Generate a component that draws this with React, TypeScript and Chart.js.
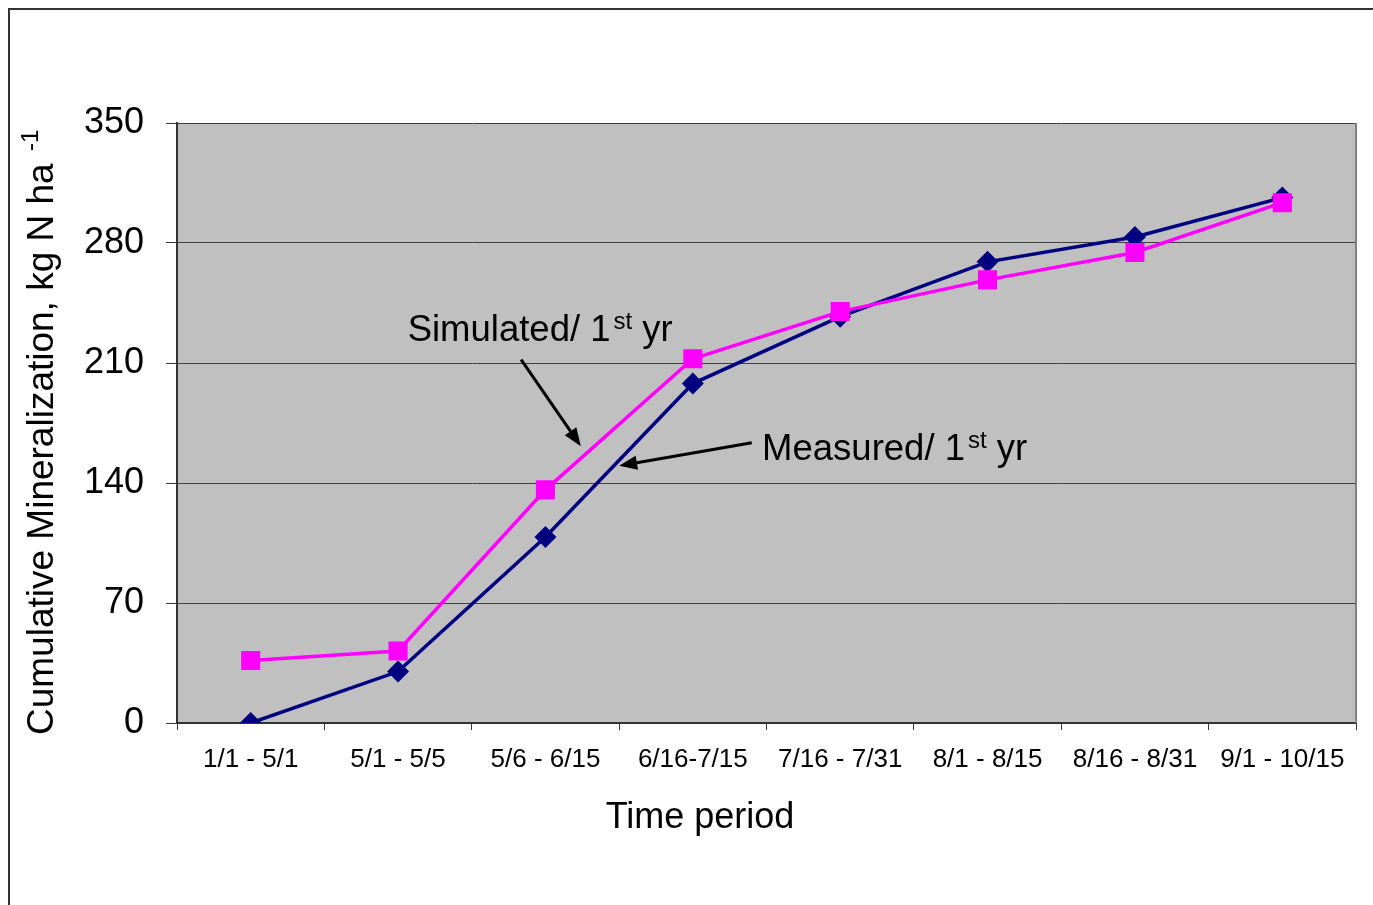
import React, { useEffect, useRef } from "react";
import { Chart, registerables } from "chart.js";

Chart.register(...registerables);

const categories = [
  "1/1 - 5/1",
  "5/1 - 5/5",
  "5/6 - 6/15",
  "6/16-7/15",
  "7/16 - 7/31",
  "8/1 - 8/15",
  "8/16 - 8/31",
  "9/1 - 10/15",
];
const measured = [0, 30, 108.5, 198, 237, 269, 283.5, 306.5];
const simulated = [36.5, 42, 136, 212.5, 240, 258.5, 274.5, 303.5];
const yMin = 0;
const yMax = 350;
const yStep = 70;

const yTitle = "Cumulative Mineralization, kg N ha";
const yTitleSup = "-1";
const xTitle = "Time period";

// annotations in data coordinates (category index, value)
const simLabel = { text: "Simulated/ 1", sup: "st", tail: " yr", x: 1.065, y: 223 };
const simArrow = { from: [1.835, 212], to: [2.24, 161.5] };
const meaLabel = { text: "Measured/ 1", sup: "st", tail: " yr", x: 3.47, y: 153.5 };
const meaArrow = { from: [3.4, 163.5], to: [2.5, 150] };

const FONT = "'Liberation Sans', Arial, sans-serif";

function drawArrow(ctx: CanvasRenderingContext2D, x1: number, y1: number, x2: number, y2: number) {
  const ang = Math.atan2(y2 - y1, x2 - x1);
  const headLen = 18;
  const headW = 7;
  const bx = x2 - headLen * Math.cos(ang);
  const by = y2 - headLen * Math.sin(ang);
  ctx.save();
  ctx.strokeStyle = "#000";
  ctx.fillStyle = "#000";
  ctx.lineWidth = 3;
  ctx.beginPath();
  ctx.moveTo(x1, y1);
  ctx.lineTo(bx, by);
  ctx.stroke();
  ctx.beginPath();
  ctx.moveTo(x2, y2);
  ctx.lineTo(bx + headW * Math.sin(ang), by - headW * Math.cos(ang));
  ctx.lineTo(bx - headW * Math.sin(ang), by + headW * Math.cos(ang));
  ctx.closePath();
  ctx.fill();
  ctx.restore();
}

function drawSupLabel(ctx: CanvasRenderingContext2D, lab: any, px: number, py: number) {
  ctx.save();
  ctx.fillStyle = "#000";
  ctx.textBaseline = "alphabetic";
  ctx.textAlign = "left";
  ctx.font = `36.5px ${FONT}`;
  ctx.fillText(lab.text, px, py);
  let x = px + ctx.measureText(lab.text).width + 3;
  ctx.font = `24px ${FONT}`;
  ctx.fillText(lab.sup, x, py - 12);
  x += ctx.measureText(lab.sup).width;
  ctx.font = `36.5px ${FONT}`;
  ctx.fillText(lab.tail, x, py);
  ctx.restore();
}

const decorPlugin = {
  id: "decor",
  beforeDraw(chart: any) {
    const { ctx, chartArea } = chart;
    ctx.save();
    ctx.fillStyle = "#ffffff";
    ctx.fillRect(0, 0, chart.width, chart.height);
    ctx.strokeStyle = "#333333";
    ctx.lineWidth = 2;
    ctx.strokeRect(9, 9, 3000, 3000);
    ctx.fillStyle = "#C0C0C0";
    ctx.fillRect(chartArea.left, chartArea.top, chartArea.right - chartArea.left, chartArea.bottom - chartArea.top);
    ctx.restore();
  },
  afterDatasetsDraw(chart: any) {
    const { ctx, chartArea, scales } = chart;
    const xs = scales.x;
    const ys = scales.y;
    ctx.save();
    ctx.strokeStyle = "#808080";
    ctx.lineWidth = 2;
    ctx.beginPath();
    ctx.moveTo(chartArea.right, chartArea.top);
    ctx.lineTo(chartArea.right, chartArea.bottom);
    ctx.stroke();
    ctx.restore();

    const px = (v: number) => xs.getPixelForValue(v);
    const py = (v: number) => ys.getPixelForValue(v);

    drawArrow(ctx, px(simArrow.from[0]), py(simArrow.from[1]), px(simArrow.to[0]), py(simArrow.to[1]));
    drawArrow(ctx, px(meaArrow.from[0]), py(meaArrow.from[1]), px(meaArrow.to[0]), py(meaArrow.to[1]));
    drawSupLabel(ctx, simLabel, px(simLabel.x), py(simLabel.y));
    drawSupLabel(ctx, meaLabel, px(meaLabel.x), py(meaLabel.y));

    ctx.save();
    ctx.fillStyle = "#000";
    ctx.font = `36px ${FONT}`;
    ctx.textAlign = "center";
    ctx.textBaseline = "alphabetic";
    ctx.fillText(xTitle, 700, 828);
    ctx.restore();

    ctx.save();
    ctx.translate(53, 735);
    ctx.rotate(-Math.PI / 2);
    ctx.fillStyle = "#000";
    ctx.font = `37px ${FONT}`;
    ctx.textAlign = "left";
    ctx.textBaseline = "alphabetic";
    ctx.fillText(yTitle, 0, 0);
    const w = ctx.measureText(yTitle + " ").width;
    ctx.font = `24px ${FONT}`;
    ctx.fillText(yTitleSup, w + 2, -15);
    ctx.restore();
  },
};

export default function App() {
  const ref = useRef<HTMLCanvasElement | null>(null);
  useEffect(() => {
    if (!ref.current) return;
    const chart = new Chart(ref.current, {
      type: "line",
      data: {
        labels: categories,
        datasets: [
          {
            label: "Simulated/ 1st yr",
            data: simulated,
            borderColor: "#FF00FF",
            backgroundColor: "#FF00FF",
            borderWidth: 3.5,
            pointStyle: "rect",
            pointRadius: 13.5,
            pointBorderWidth: 0,
            pointBackgroundColor: "#FF00FF",
            tension: 0,
          },
          {
            label: "Measured/ 1st yr",
            data: measured,
            borderColor: "#000080",
            backgroundColor: "#000080",
            borderWidth: 3.5,
            pointStyle: "rectRot",
            pointRadius: 11,
            pointBorderWidth: 0,
            pointBackgroundColor: "#000080",
            tension: 0,
          },
        ],
      },
      options: {
        animation: false,
        responsive: false,
        maintainAspectRatio: false,
        layout: { padding: { left: 0, top: 123, right: 17, bottom: 0 } },
        plugins: { legend: { display: false }, tooltip: { enabled: false } },
        scales: {
          x: {
            type: "category",
            offset: true,
            grid: {
              offset: true,
              drawOnChartArea: false,
              drawTicks: true,
              tickLength: 7,
              color: "#333333",
              lineWidth: 1,
            },
            border: { display: true, color: "#333333", width: 2 },
            ticks: {
              color: "#000",
              font: { family: FONT, size: 26 },
              padding: 14,
              maxRotation: 0,
              autoSkip: false,
            },
            afterFit: (s: any) => {
              s.height = 182;
            },
          },
          y: {
            min: yMin,
            max: yMax,
            grid: {
              color: "#404040",
              lineWidth: 1,
              drawTicks: true,
              tickLength: 11,
              tickColor: "#333333",
            },
            border: { display: true, color: "#333333", width: 2 },
            ticks: {
              stepSize: yStep,
              color: "#000",
              font: { family: FONT, size: 36 },
              padding: 22,
            },
            afterFit: (s: any) => {
              s.width = 177;
            },
          },
        },
      },
      plugins: [decorPlugin],
    } as any);
    return () => chart.destroy();
  }, []);
  return (
    <div style={{ position: "fixed", left: 0, top: 0, width: 1373, height: 905, background: "#fff" }}>
      <canvas ref={ref} width={1373} height={905} style={{ width: 1373, height: 905, display: "block" }} />
    </div>
  );
}
